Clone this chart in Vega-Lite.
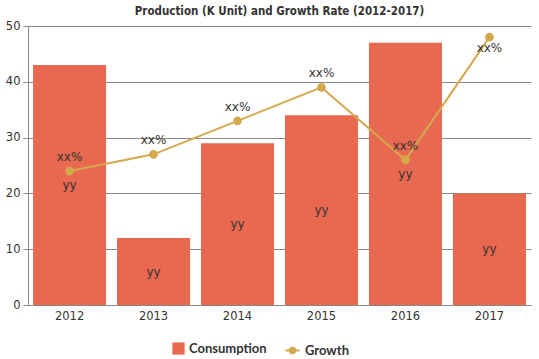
{
  "$schema": "https://vega.github.io/schema/vega-lite/v6.json",
  "width": 503,
  "height": 279,
  "autosize": {"type": "none"},
  "padding": {"left": 28, "top": 26, "right": 8, "bottom": 54},
  "title": {
    "text": "Production (K Unit) and Growth Rate (2012-2017)",
    "font": "DejaVu Sans Condensed",
    "fontWeight": "bold",
    "fontSize": 11.5,
    "color": "#333333",
    "anchor": "middle",
    "offset": 3
  },
  "data": {
    "values": [
      {"year": "2012", "consumption": 43, "growth": 24, "bar_label": "yy", "growth_label": "xx%", "series": "Consumption", "line_series": "Growth"},
      {"year": "2013", "consumption": 12, "growth": 27, "bar_label": "yy", "growth_label": "xx%", "series": "Consumption", "line_series": "Growth"},
      {"year": "2014", "consumption": 29, "growth": 33, "bar_label": "yy", "growth_label": "xx%", "series": "Consumption", "line_series": "Growth"},
      {"year": "2015", "consumption": 34, "growth": 39, "bar_label": "yy", "growth_label": "xx%", "series": "Consumption", "line_series": "Growth"},
      {"year": "2016", "consumption": 47, "growth": 26, "bar_label": "yy", "growth_label": "xx%", "series": "Consumption", "line_series": "Growth"},
      {"year": "2017", "consumption": 20, "growth": 48, "bar_label": "yy", "growth_label": "xx%", "series": "Consumption", "line_series": "Growth"}
    ]
  },
  "encoding": {
    "x": {
      "field": "year",
      "type": "ordinal",
      "scale": {"paddingInner": 0.13, "paddingOuter": 0.06},
      "axis": {
        "title": null,
        "labelAngle": 0,
        "labelFont": "DejaVu Sans",
        "labelFontSize": 11.5,
        "labelColor": "#333333",
        "ticks": false,
        "labelPadding": 5,
        "domainColor": "#888888"
      }
    }
  },
  "layer": [
    {
      "mark": {"type": "bar", "color": "#E8694F"},
      "encoding": {
        "y": {
          "field": "consumption",
          "type": "quantitative",
          "scale": {"domain": [0, 50]},
          "axis": {
            "title": null,
            "values": [0, 10, 20, 30, 40, 50],
            "labelFont": "DejaVu Sans",
            "labelFontSize": 11.5,
            "labelColor": "#333333",
            "tickColor": "#888888",
            "tickSize": 5,
            "labelPadding": 3,
            "domainColor": "#888888",
            "gridColor": "#888888",
            "gridWidth": 1
          }
        },
        "fill": {
          "field": "series",
          "type": "nominal",
          "scale": {"range": ["#E8694F"]},
          "legend": {
            "title": null,
            "orient": "none",
            "legendX": 144,
            "legendY": 316,
            "symbolType": "square",
            "symbolSize": 150,
            "symbolStrokeWidth": 0,
            "labelFont": "Lato",
            "labelFontWeight": "bold",
            "labelFontSize": 13,
            "labelColor": "#333333"
          }
        }
      }
    },
    {
      "mark": {"type": "text", "font": "DejaVu Sans", "fontSize": 12, "color": "#333333"},
      "transform": [{"calculate": "datum.consumption / 2", "as": "mid"}],
      "encoding": {
        "y": {"field": "mid", "type": "quantitative"},
        "text": {"field": "bar_label"}
      }
    },
    {
      "mark": {"type": "line", "color": "#D4A84C", "strokeWidth": 2, "point": {"filled": true, "size": 45, "color": "#D4A84C"}},
      "encoding": {
        "y": {"field": "growth", "type": "quantitative"},
        "stroke": {
          "field": "line_series",
          "type": "nominal",
          "scale": {"range": ["#D4A84C"]},
          "legend": {
            "title": null,
            "orient": "none",
            "legendX": 256,
            "legendY": 316,
            "symbolType": "M-1,0H1M0.38,0A0.38,0.38 0 1,1 -0.38,0A0.38,0.38 0 1,1 0.38,0",
            "symbolSize": 200,
            "symbolStrokeWidth": 2,
            "symbolFillColor": "#D4A84C",
            "symbolStrokeColor": "#D4A84C",
            "labelFont": "Lato",
            "labelFontWeight": "bold",
            "labelFontSize": 13,
            "labelColor": "#333333"
          }
        }
      }
    },
    {
      "mark": {"type": "text", "font": "DejaVu Sans", "fontSize": 12, "color": "#333333", "dy": -14},
      "transform": [{"filter": "datum.year != '2017'"}],
      "encoding": {
        "y": {"field": "growth", "type": "quantitative"},
        "text": {"field": "growth_label"}
      }
    },
    {
      "mark": {"type": "text", "font": "DejaVu Sans", "fontSize": 12, "color": "#333333", "dy": 11},
      "transform": [{"filter": "datum.year == '2017'"}],
      "encoding": {
        "y": {"field": "growth", "type": "quantitative"},
        "text": {"field": "growth_label"}
      }
    }
  ],
  "config": {
    "view": {"stroke": null},
    "axis": {"gridColor": "#888888"}
  }
}
